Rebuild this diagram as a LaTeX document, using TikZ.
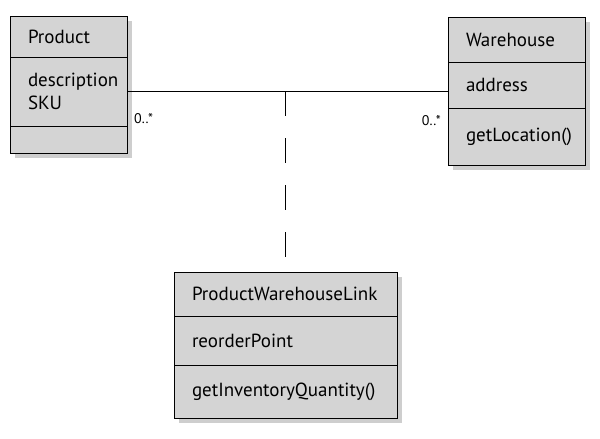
\documentclass[tikz,border=0pt]{standalone}
\usepackage{fontspec}
\newfontfamily\umlfont{PT Sans}
\usetikzlibrary{positioning,shadows}
\definecolor{boxgray}{gray}{0.83}
\definecolor{shadegray}{gray}{0.62}
\tikzset{
  part/.style={draw,thick,fill=boxgray,inner xsep=18pt,inner ysep=0pt,
    outer sep=0pt,align=left,
    font=\umlfont\fontsize{19}{23}\selectfont,
    drop shadow={shadow xshift=5pt,shadow yshift=-5pt,fill=shadegray}},
  mult/.style={font=\umlfont\fontsize{14}{16}\selectfont,inner sep=0pt}
}
\begin{document}
\begin{tikzpicture}[x=1pt,y=-1pt]
    \useasboundingbox (0,0) rectangle (600,439);
    % Product
    \node (prodname) [part,anchor=north west,text width=81pt,minimum height=41pt] at (10,16) {Product};
    \node (prodattr) [part,text width=81pt,minimum height=69pt,below=0pt of prodname]
      {description\\SKU};
    \node (prodops) [part,text width=81pt,minimum height=27pt,below=0pt of prodattr] {};
    % Warehouse
    \node (whname) [part,anchor=north west,text width=101pt,minimum height=45pt] at (448,17) {Warehouse};
    \node (whattr) [part,text width=101pt,minimum height=46pt,below=0pt of whname]
      {address};
    \node (whops) [part,text width=101pt,minimum height=57pt,below=0pt of whattr]
      {getLocation()};
    % association class
    \node (linkname) [part,anchor=north west,text width=187pt,minimum height=44pt] at (174,272) {ProductWarehouseLink};
    \node (linkattr) [part,text width=187pt,minimum height=49pt,below=0pt of linkname]
      {reorderPoint};
    \node (linkops) [part,text width=187pt,minimum height=53pt,below=0pt of linkattr]
      {getInventoryQuantity()};
    \coordinate (mid) at (linkname.north |- 0,91);
    \draw [thick] (prodattr.east |- mid) -- (whattr.west |- mid);
    \draw [thick,dash pattern=on 25pt off 22pt] (mid) -- (linkname.north);
    \node (multp) [mult,anchor=north west] at (134,113) {0..*};
    \node (multw) [mult,anchor=north east] at (441,115) {0..*};
\end{tikzpicture}
\end{document}
